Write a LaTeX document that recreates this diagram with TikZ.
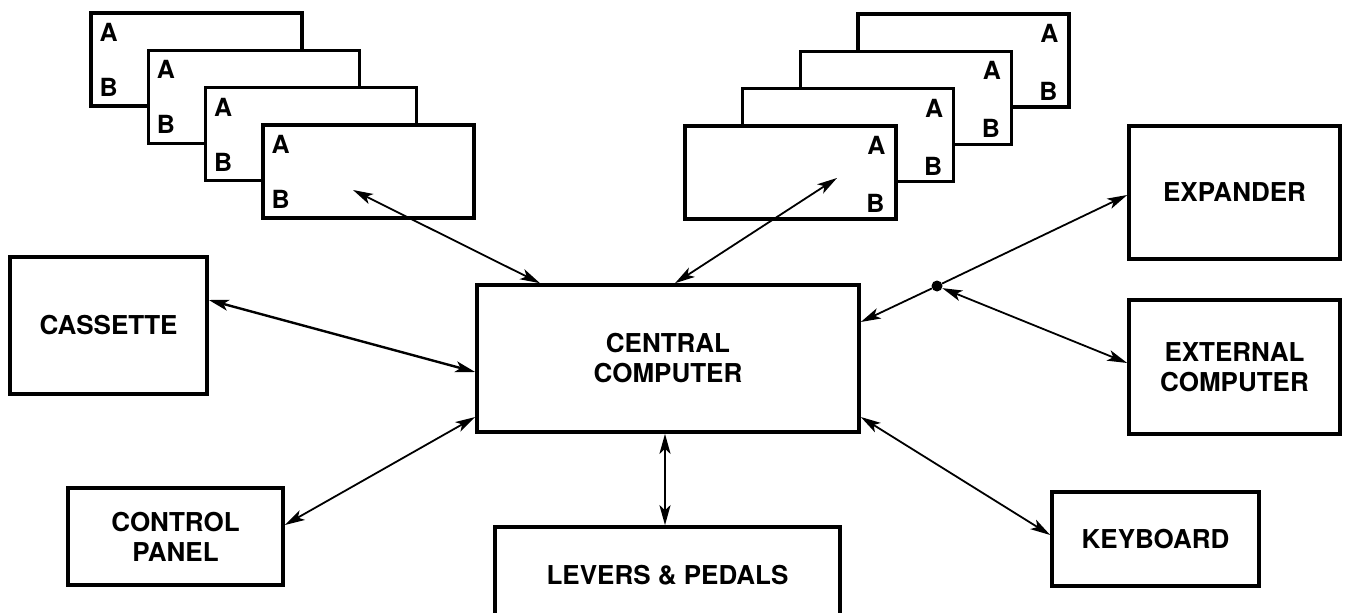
\documentclass[tikz,border=0pt]{standalone}
\usepackage{fontspec}
\setmainfont{TeX Gyre Heros}
\usetikzlibrary{arrows.meta}

\begin{document}
\begin{tikzpicture}[x=1pt,y=-1pt,
  >={Stealth[length=20pt,width=11pt,inset=5pt]},
  box/.style={draw, line width=3.6pt, fill=white, inner sep=0pt, align=center,
    font=\fontsize{26}{30}\selectfont\bfseries},
  card/.style={draw, line width=3.4pt, fill=white, minimum width=211pt,
    minimum height=93pt, inner sep=0pt},
  tag/.style={inner sep=0pt, font=\fontsize{25}{25}\selectfont\bfseries},
  link/.style={line width=1.8pt, <->}]
\useasboundingbox (0,0) rectangle (1345,613);
\clip (0,0) rectangle (1345,613);
%% cards left
\foreach \i/\cx/\cy in {1/196.5/59.5, 2/253.8/96.8, 3/311.2/134.1, 4/368.5/171.5}{
  \node[card] (cardL\i) at (\cx,\cy) {};
  \node[tag, anchor=west] (aL\i) at ([xshift=10pt,yshift=-21pt]cardL\i.north west) {A};
  \node[tag, anchor=west] (bL\i) at ([xshift=10pt,yshift=-76pt]cardL\i.north west) {B};
}
%% cards right
\foreach \i/\cx/\cy in {4/963.5/60.5, 3/905.8/97.8, 2/848.2/135.2, 1/790.5/172.5}{
  \node[card] (cardR\i) at (\cx,\cy) {};
  \node[tag, anchor=east] (aR\i) at ([xshift=-12pt,yshift=-21pt]cardR\i.north east) {A};
  \node[tag, anchor=east] (bR\i) at ([xshift=-13pt,yshift=-79pt]cardR\i.north east) {B};
}
%% blocks
\node[box, minimum width=382pt, minimum height=147pt] (central) at (668,358.5) {CENTRAL\\COMPUTER};
\node[box, minimum width=197pt, minimum height=137pt] (cassette) at (108.5,325.5) {CASSETTE};
\node[box, minimum width=215pt, minimum height=97pt] (control) at (175.5,536.5) {CONTROL\\PANEL};
\node[box, minimum width=345pt, minimum height=96pt] (levers) at (667.5,575) {LEVERS \& PEDALS};
\node[box, minimum width=207pt, minimum height=94pt] (keyboard) at (1155.5,539) {KEYBOARD};
\node[box, minimum width=211pt, minimum height=133pt] (expander) at (1234.5,192.5) {EXPANDER};
\node[box, minimum width=211pt, minimum height=134pt] (external) at (1234.5,367) {EXTERNAL\\COMPUTER};
\node[circle, fill, inner sep=0pt, minimum size=11pt] (junc) at (937,286) {};
%% links
\draw[link, line width=2.4pt] ([yshift=25.5pt]cassette.east) -- ([yshift=-13.5pt]central.west);
\draw[link] ([yshift=11.5pt]control.east) -- ([yshift=-58.5pt]central.west);
\draw[link, line width=2.6pt] ([xshift=-3pt]central.south) -- ([xshift=-2.5pt]levers.north);
\draw[link] ([yshift=-58.5pt]central.east) -- ([yshift=4pt]keyboard.west);
\draw[link] ([xshift=-15.5pt,yshift=-18.5pt]cardL4.center) -- ([xshift=-128pt]central.north);
\draw[link] ([xshift=46.5pt,yshift=-5.5pt]cardR1.center) -- ([xshift=7pt]central.north);
\draw[line width=1.8pt, ->] (junc) -- ([yshift=-2.5pt]expander.west);
\draw[line width=1.8pt, ->] (junc) -- ([yshift=36.5pt]central.east);
\draw[link] (junc) -- ([yshift=4pt]external.west);

\end{tikzpicture}
\end{document}
